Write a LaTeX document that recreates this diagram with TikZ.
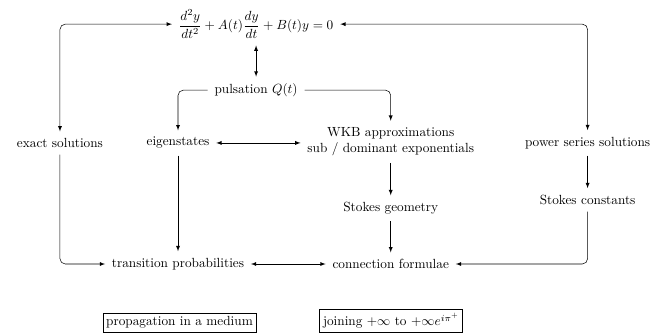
\documentclass[tikz,border=0pt]{standalone}
\usepackage{amsmath}
\begin{document}
\begin{tikzpicture}[
    lbl/.style={inner sep=5pt, align=center},
    box/.style={draw, inner sep=2.6pt, anchor=base},
    arr/.style={->, >=latex, rounded corners=4pt},
    biarr/.style={<->, >=latex, rounded corners=4pt}
]
\useasboundingbox (0,0) rectangle (17.5,-8.83);
% Equation and pulsation
\node[lbl] (eq) at (6.79, -0.64) {$\dfrac{d^2y}{dt^2}+A(t)\dfrac{dy}{dt}+B(t)y=0$};
\node[lbl] (puls) at (6.79, -2.39) {pulsation $Q(t)$};
% Middle row
\node[lbl] (exact) at (1.59, -3.79) {exact solutions};
\node[lbl] (eigen) at (4.72, -3.79) {eigenstates};
\node[lbl] (wkb) at (10.36, -3.76) {WKB approximations\\sub / dominant exponentials};
\node[lbl] (power) at (15.58, -3.79) {power series solutions};
% Stokes
\node[lbl] (geom) at (10.36, -5.52) {Stokes geometry};
\node[lbl] (const) at (15.58, -5.30) {Stokes constants};
% Bottom row
\node[lbl] (trans) at (4.72, -7.0) {transition probabilities};
\node[lbl] (conn) at (10.36, -7.0) {connection formulae};
% Boxes
\node[box] (medium) at (4.76, -8.64) {propagation in a medium};
\node[box] (joining) at (10.37, -8.64) {joining $+\infty$ to $+\infty e^{i\pi^+}$};

% Arrows
\draw[biarr] (exact.north) |- (eq.west);
\draw[biarr] (power.north) |- (eq.east);
\draw[biarr] (eq.south) -- (puls.north);
\draw[arr] (puls.west) -| (eigen.north);
\draw[arr] (puls.east) -| (wkb.north);
\draw[biarr] (eigen.east) -- (wkb.west |- eigen.east);
\draw[arr] (exact.south) |- (trans.west);
\draw[arr] (eigen.south) -- (trans.north);
\draw[arr] (wkb.south) -- (geom.north);
\draw[arr] (geom.south) -- (conn.north);
\draw[arr] (power.south) -- (const.north);
\draw[arr] (const.south) |- (conn.east);
\draw[biarr] (trans.east) -- (conn.west);
\end{tikzpicture}
\end{document}
